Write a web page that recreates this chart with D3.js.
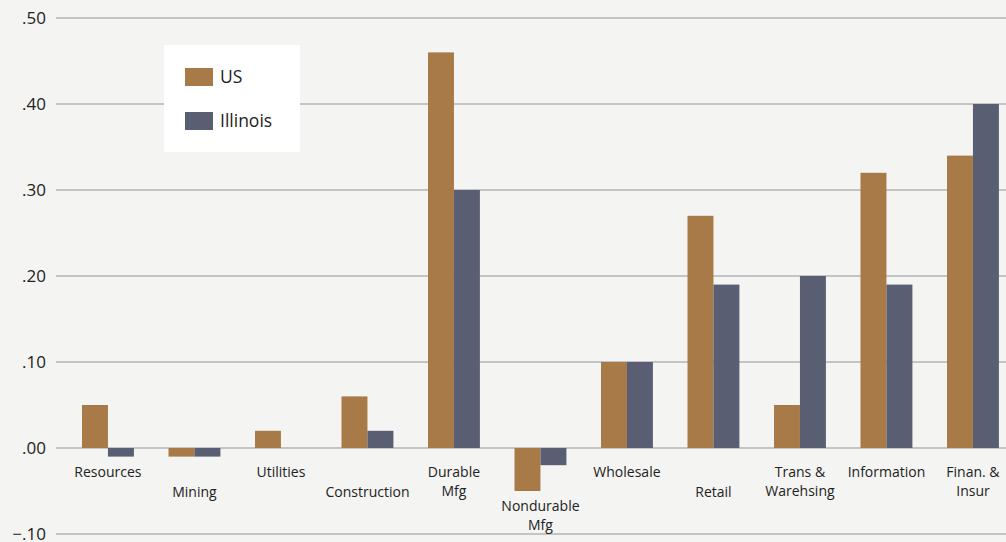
<!DOCTYPE html>
<html>
<head>
<meta charset="utf-8">
<script src="https://cdn.jsdelivr.net/npm/d3@7"></script>
<style>
  html, body { margin: 0; padding: 0; background: #f4f4f2; }
  svg { display: block; font-family: "Open Sans", sans-serif; }
</style>
</head>
<body>
<div id="chart"></div>
<script>
// Chart data
const categories = ['Resources', 'Mining', 'Utilities', 'Construction', 'Durable\nMfg',
    'Nondurable\nMfg', 'Wholesale', 'Retail', 'Trans &\nWarehsing', 'Information', 'Finan. &\nInsur'];
const usValues = [0.05, -0.01, 0.02, 0.06, 0.46, -0.05, 0.10, 0.27, 0.05, 0.32, 0.34];
const ilValues = [-0.01, -0.01, 0, 0.02, 0.30, -0.02, 0.10, 0.19, 0.20, 0.19, 0.40];
const seriesNames = ['US', 'Illinois'];
const tickValues = [-0.10, 0, 0.10, 0.20, 0.30, 0.40, 0.50];

const width = 1006;
const height = 542;
const colors = ['#a87a48', '#595e72'];

// label row offsets (px) so neighbouring labels don't collide
const labelShift = [0, 20, 0, 20, 0, 34, 0, 20, 0, 0, 0];

const svg = d3.select('#chart')
    .append('svg')
    .attr('width', width)
    .attr('height', height);

const y = d3.scaleLinear().domain([-0.1, 0.5]).range([534, 18]);

const x = d3.scaleBand()
    .domain(categories)
    .range([64.7, 1016.2])
    .paddingInner(0.4)
    .paddingOuter(0.2);

const xs = d3.scaleBand()
    .domain(seriesNames)
    .range([0, x.bandwidth()]);

// gridlines + tick labels
const grid = svg.append('g');
grid.selectAll('line')
    .data(tickValues)
    .enter()
    .append('line')
    .attr('x1', 56)
    .attr('x2', width)
    .attr('y1', d => y(d))
    .attr('y2', d => y(d))
    .attr('stroke', '#b4b4b8')
    .attr('stroke-width', 1.5);

const fmt = d => d3.format('.2f')(d).replace('0.', '.');
grid.selectAll('text')
    .data(tickValues)
    .enter()
    .append('text')
    .attr('x', 46)
    .attr('y', d => y(d))
    .attr('dy', '0.35em')
    .attr('text-anchor', 'end')
    .attr('font-size', 17)
    .attr('fill', '#222')
    .text(fmt);

// bars
const groups = svg.append('g')
    .selectAll('g')
    .data(categories)
    .enter()
    .append('g')
    .attr('transform', d => `translate(${x(d)},0)`);

groups.selectAll('rect')
    .data((d, i) => [usValues[i], ilValues[i]].map((v, j) => ({ key: seriesNames[j], value: v, c: j })))
    .enter()
    .append('rect')
    .attr('x', d => xs(d.key))
    .attr('width', xs.bandwidth())
    .attr('y', d => y(Math.max(0, d.value)))
    .attr('height', d => Math.abs(y(d.value) - y(0)))
    .attr('fill', d => colors[d.c]);

// category labels
const labels = svg.append('g')
    .selectAll('text')
    .data(categories)
    .enter()
    .append('text')
    .attr('text-anchor', 'middle')
    .attr('font-size', 14)
    .attr('fill', '#222')
    .attr('transform', (d, i) => `translate(${x(d) + x.bandwidth() / 2},${477 + labelShift[i]})`);

labels.selectAll('tspan')
    .data(d => d.split('\n'))
    .enter()
    .append('tspan')
    .attr('x', 0)
    .attr('dy', (d, i) => i === 0 ? 0 : 18.5)
    .text(d => d);

// legend
const legend = svg.append('g');
legend.append('rect')
    .attr('x', 164)
    .attr('y', 45)
    .attr('width', 136)
    .attr('height', 107)
    .attr('fill', '#ffffff');

const items = legend.selectAll('g')
    .data(seriesNames)
    .enter()
    .append('g')
    .attr('transform', (d, i) => `translate(185,${68 + i * 44})`);

items.append('rect')
    .attr('width', 28)
    .attr('height', 18)
    .attr('fill', (d, i) => colors[i]);

items.append('text')
    .attr('x', 35)
    .attr('y', 9)
    .attr('dy', '0.36em')
    .attr('font-size', 17.5)
    .attr('fill', '#222')
    .text(d => d);
</script>
</body>
</html>
